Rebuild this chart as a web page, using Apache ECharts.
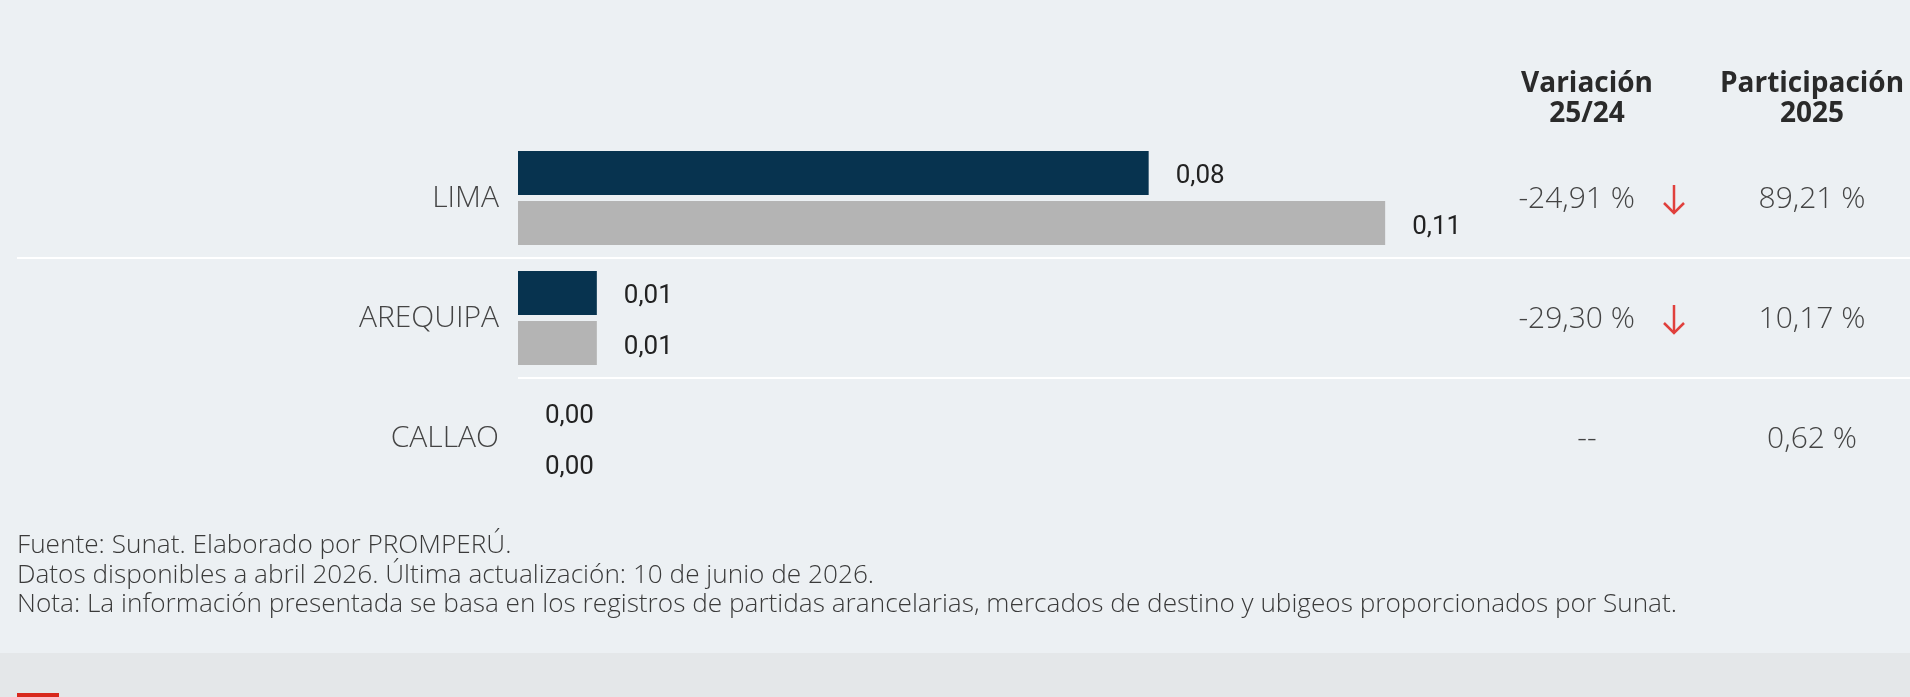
<!DOCTYPE html>
<html>
<head>
<meta charset="utf-8">
<script src="https://cdn.jsdelivr.net/npm/echarts@6/dist/echarts.min.js"></script>
<style>
  html, body { margin: 0; padding: 0; background: #ecf0f3; }
  #chart { width: 1910px; height: 697px; }
</style>
</head>
<body>
<div id="chart"></div>
<script>
// Exports by region (values in millions of US$)
const regions = ['LIMA', 'AREQUIPA', 'CALLAO'];
const values2025 = [0.08, 0.01, 0.00];
const values2024 = [0.11, 0.01, 0.00];
const variation = ['-24,91 %', '-29,30 %', '--'];
const variationDown = [true, true, false];
const share2025 = ['89,21 %', '10,17 %', '0,62 %'];
const headers = ['Variación\n25/24', 'Participación\n2025'];
const notes = [
  'Fuente: Sunat. Elaborado por PROMPERÚ.',
  'Datos disponibles a abril 2026. Última actualización: 10 de junio de 2026.',
  'Nota: La información presentada se basa en los registros de partidas arancelarias, mercados de destino y ubigeos proporcionados por Sunat.'
];

const TEXT_FONT = '"Open Sans", "Noto Sans", sans-serif';
const NUM_FONT = 'Roboto, "Open Sans", sans-serif';
const fmt = v => v.toFixed(2).replace('.', ',');

const chart = echarts.init(document.getElementById('chart'), null, { renderer: 'canvas' });

const valueLabel = {
  show: true,
  position: 'right',
  distance: 27,
  offset: [0, 4],
  fontFamily: NUM_FONT,
  fontSize: 26,
  color: '#222',
  formatter: p => fmt(p.value)
};

chart.setOption({
  backgroundColor: '#ecf0f3',
  animation: false,
  grid: { left: 518, top: 138, width: 946, height: 360 },
  xAxis: {
    type: 'value', min: 0, max: 0.12,
    show: false
  },
  yAxis: {
    type: 'category', data: regions, inverse: true,
    axisLine: { show: false }, axisTick: { show: false }, splitLine: { show: false },
    axisLabel: { margin: 19, fontFamily: TEXT_FONT, fontSize: 30, fontWeight: 300, color: '#444' }
  },
  series: [
    {
      name: '2025', type: 'bar', data: values2025,
      barWidth: 44, barGap: '14%',
      itemStyle: { color: '#07334f' },
      label: valueLabel
    },
    {
      name: '2024', type: 'bar', data: values2024,
      barWidth: 44,
      itemStyle: { color: '#b4b4b4' },
      label: valueLabel
    }
  ]
});

// Table columns, row separators and notes, placed on the category scale
const rowY = i => chart.convertToPixel({ yAxisIndex: 0 }, regions[i]);
const graphics = [];

// bottom band
graphics.push({ type: 'rect', shape: { x: 0, y: 653, width: 1910, height: 44 }, style: { fill: '#e4e7e9' }, silent: true });
graphics.push({ type: 'rect', shape: { x: 17, y: 693, width: 42, height: 4 }, style: { fill: '#d8281d' }, silent: true });

// separators between rows
for (let i = 0; i < regions.length - 1; i++) {
  const y = Math.round((rowY(i) + rowY(i + 1)) / 2);
  const x0 = i === 0 ? 17 : 518;
  graphics.push({ type: 'line', shape: { x1: x0, y1: y, x2: 1910, y2: y }, style: { stroke: '#ffffff', lineWidth: 2 }, silent: true });
}

// column headers
const colX = [1587, 1812];
headers.forEach((h, k) => {
  graphics.push({
    type: 'text', x: colX[k], y: 99,
    style: { text: h, fontFamily: TEXT_FONT, fontSize: 28, fontWeight: 'bold', fill: '#2a2a2a', align: 'center', verticalAlign: 'middle', lineHeight: 30 }
  });
});

// row values
regions.forEach((r, i) => {
  const y = rowY(i) + 1;
  if (variationDown[i]) {
    graphics.push({
      type: 'text', x: 1635, y: y,
      style: { text: variation[i], fontFamily: TEXT_FONT, fontSize: 30, fontWeight: 300, fill: '#444', align: 'right', verticalAlign: 'middle' }
    });
    graphics.push({ type: 'line', shape: { x1: 1674, y1: y - 14, x2: 1674, y2: y + 14 }, style: { stroke: '#e0403c', lineWidth: 2.5 }, silent: true });
    graphics.push({ type: 'polyline', shape: { points: [[1664, y + 4], [1674, y + 14], [1684, y + 4]] }, style: { stroke: '#e0403c', lineWidth: 2.5, fill: null }, silent: true });
  } else {
    graphics.push({
      type: 'text', x: colX[0], y: y,
      style: { text: variation[i], fontFamily: TEXT_FONT, fontSize: 30, fontWeight: 300, fill: '#444', align: 'center', verticalAlign: 'middle' }
    });
  }
  graphics.push({
    type: 'text', x: colX[1], y: y,
    style: { text: share2025[i], fontFamily: TEXT_FONT, fontSize: 30, fontWeight: 300, fill: '#444', align: 'center', verticalAlign: 'middle' }
  });
});

// notes
notes.forEach((t, k) => {
  graphics.push({
    type: 'text', x: 17, y: 546 + k * 29.5,
    style: { text: t, fontFamily: TEXT_FONT, fontSize: 26.2, fontWeight: 300, fill: '#3a3a3a', align: 'left', verticalAlign: 'middle' }
  });
});

chart.setOption({ graphic: graphics });
</script>
</body>
</html>
